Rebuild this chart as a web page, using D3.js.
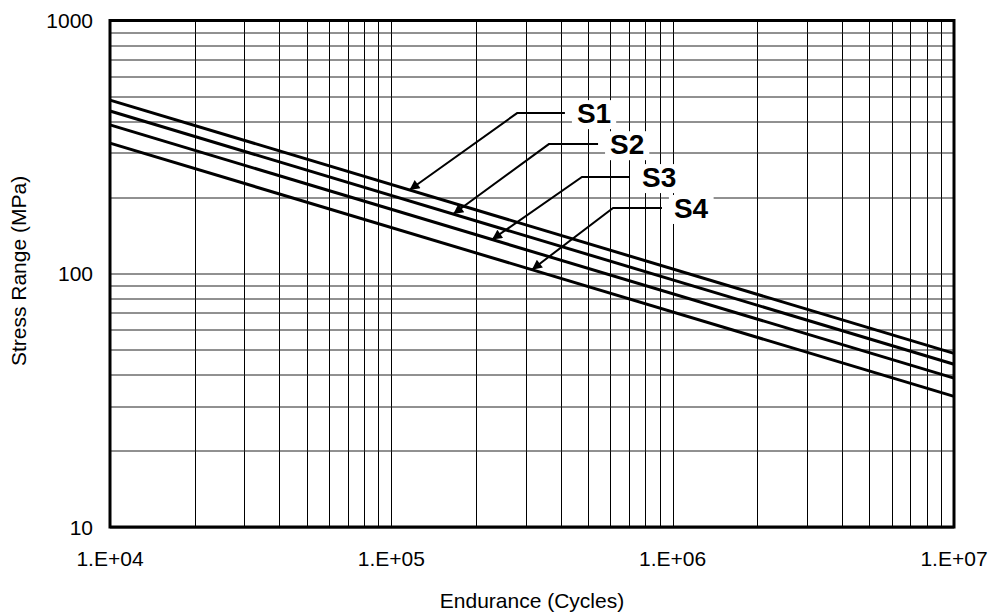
<!DOCTYPE html>
<html>
<head>
<meta charset="utf-8">
<script src="https://cdn.jsdelivr.net/npm/d3@7"></script>
<style>
  body { margin: 0; background: #fff; }
  text { font-family: Arial, "Liberation Sans", sans-serif; }
</style>
</head>
<body>
<div id="chart"></div>
<script>
// S-N curves, slope m = 3 on log-log
const seriesNames = ["S1", "S2", "S3", "S4"];
const enduranceEnds = [1e4, 1e7];
const stressS1 = [485, 48.5];
const stressS2 = [439, 43.9];
const stressS3 = [387, 38.7];
const stressS4 = [328, 32.8];
const allStress = [stressS1, stressS2, stressS3, stressS4];

// annotation anchors (data units)
const arrowTipN = [1.16e5, 1.66e5, 2.28e5, 3.16e5];
const elbowN = [2.80e5, 3.63e5, 4.76e5, 6.14e5];
const elbowS = [431, 325, 241, 182];
const leaderEndN = [4.14e5, 5.43e5, 7.05e5, 9.16e5];

const xTicks = [1e4, 1e5, 1e6, 1e7];
const xTickLabels = ["1.E+04", "1.E+05", "1.E+06", "1.E+07"];
const yTicks = [10, 100, 1000];
const yTickLabels = ["10", "100", "1000"];

const W = 991, H = 614;
const margin = { top: 20.5, right: 37, bottom: 87, left: 110 };
const width = W - margin.left - margin.right,
      height = H - margin.top - margin.bottom;

const svg = d3.select("#chart").append("svg")
    .attr("width", W)
    .attr("height", H);

const g = svg.append("g")
    .attr("transform", `translate(${margin.left},${margin.top})`);

const x = d3.scaleLog().domain([1e4, 1e7]).range([0, width]);
const y = d3.scaleLog().domain([10, 1000]).range([height, 0]);

// minor + major grid
const xGrid = [], yGrid = [];
[1e4, 1e5, 1e6].forEach(d => { for (let k = 1; k <= 9; k++) xGrid.push(d * k); });
[10, 100].forEach(d => { for (let k = 1; k <= 9; k++) yGrid.push(d * k); });

g.append("g").selectAll("line")
    .data(xGrid)
    .join("line")
    .attr("x1", d => Math.round(x(d)) + 0.5)
    .attr("x2", d => Math.round(x(d)) + 0.5)
    .attr("y1", 0)
    .attr("y2", height)
    .attr("stroke", "#000")
    .attr("stroke-width", 1);

g.append("g").selectAll("line")
    .data(yGrid)
    .join("line")
    .attr("x1", 0)
    .attr("x2", width)
    .attr("y1", d => Math.round(y(d)) + 0.5)
    .attr("y2", d => Math.round(y(d)) + 0.5)
    .attr("stroke", "#222")
    .attr("stroke-width", 1);

// curves
const line = d3.line()
    .x(d => x(d[0]))
    .y(d => y(d[1]));

allStress.forEach(s => {
    g.append("path")
        .datum(enduranceEnds.map((n, i) => [n, s[i]]))
        .attr("d", line)
        .attr("fill", "none")
        .attr("stroke", "#000")
        .attr("stroke-width", 3);
});

// stress on a curve at N (straight line in log-log)
function stressAt(s, n) {
    const t = (Math.log10(n) - Math.log10(enduranceEnds[0])) /
              (Math.log10(enduranceEnds[1]) - Math.log10(enduranceEnds[0]));
    return Math.pow(10, Math.log10(s[0]) + t * (Math.log10(s[1]) - Math.log10(s[0])));
}

// arrowhead
svg.append("defs").append("marker")
    .attr("id", "arrow")
    .attr("viewBox", "0 0 10 10")
    .attr("refX", 10)
    .attr("refY", 5)
    .attr("markerWidth", 7)
    .attr("markerHeight", 5)
    .attr("markerUnits", "strokeWidth")
    .attr("orient", "auto")
    .append("path")
    .attr("d", "M0,0L10,5L0,10Z")
    .attr("fill", "#000");

// labels with white boxes + leaders
seriesNames.forEach((name, i) => {
    const ex = x(elbowN[i]), ey = y(elbowS[i]);
    const lx = x(leaderEndN[i]);
    const tx = x(arrowTipN[i]), ty = y(stressAt(allStress[i], arrowTipN[i]));

    const lab = g.append("g");
    const txt = lab.append("text")
        .attr("x", lx + 12)
        .attr("y", ey)
        .attr("dy", "0.36em")
        .style("font-size", "28px")
        .style("font-weight", "bold")
        .text(name);
    const bb = txt.node().getBBox();
    lab.insert("rect", "text")
        .attr("x", bb.x - 5)
        .attr("y", bb.y + 2)
        .attr("width", bb.width + 10)
        .attr("height", bb.height - 2)
        .attr("fill", "#fff");

    g.append("path")
        .attr("d", `M${lx},${ey}L${ex},${ey}L${tx},${ty}`)
        .attr("fill", "none")
        .attr("stroke", "#000")
        .attr("stroke-width", 2)
        .attr("marker-end", "url(#arrow)");
});

// frame
g.append("rect")
    .attr("width", width)
    .attr("height", height)
    .attr("fill", "none")
    .attr("stroke", "#000")
    .attr("stroke-width", 3);

// tick labels
g.append("g").selectAll("text")
    .data(xTicks)
    .join("text")
    .attr("x", d => x(d))
    .attr("y", height + 39)
    .attr("text-anchor", "middle")
    .style("font-size", "21px")
    .text((d, i) => xTickLabels[i]);

g.append("g").selectAll("text")
    .data(yTicks)
    .join("text")
    .attr("x", -17)
    .attr("y", d => y(d))
    .attr("dy", "0.36em")
    .attr("text-anchor", "end")
    .style("font-size", "21px")
    .text((d, i) => yTickLabels[i]);

// axis titles
svg.append("text")
    .attr("x", margin.left + width / 2)
    .attr("y", 608)
    .attr("text-anchor", "middle")
    .style("font-size", "21px")
    .text("Endurance (Cycles)");

svg.append("text")
    .attr("transform", "translate(26,271) rotate(-90)")
    .attr("text-anchor", "middle")
    .style("font-size", "21px")
    .text("Stress Range (MPa)");
</script>
</body>
</html>
